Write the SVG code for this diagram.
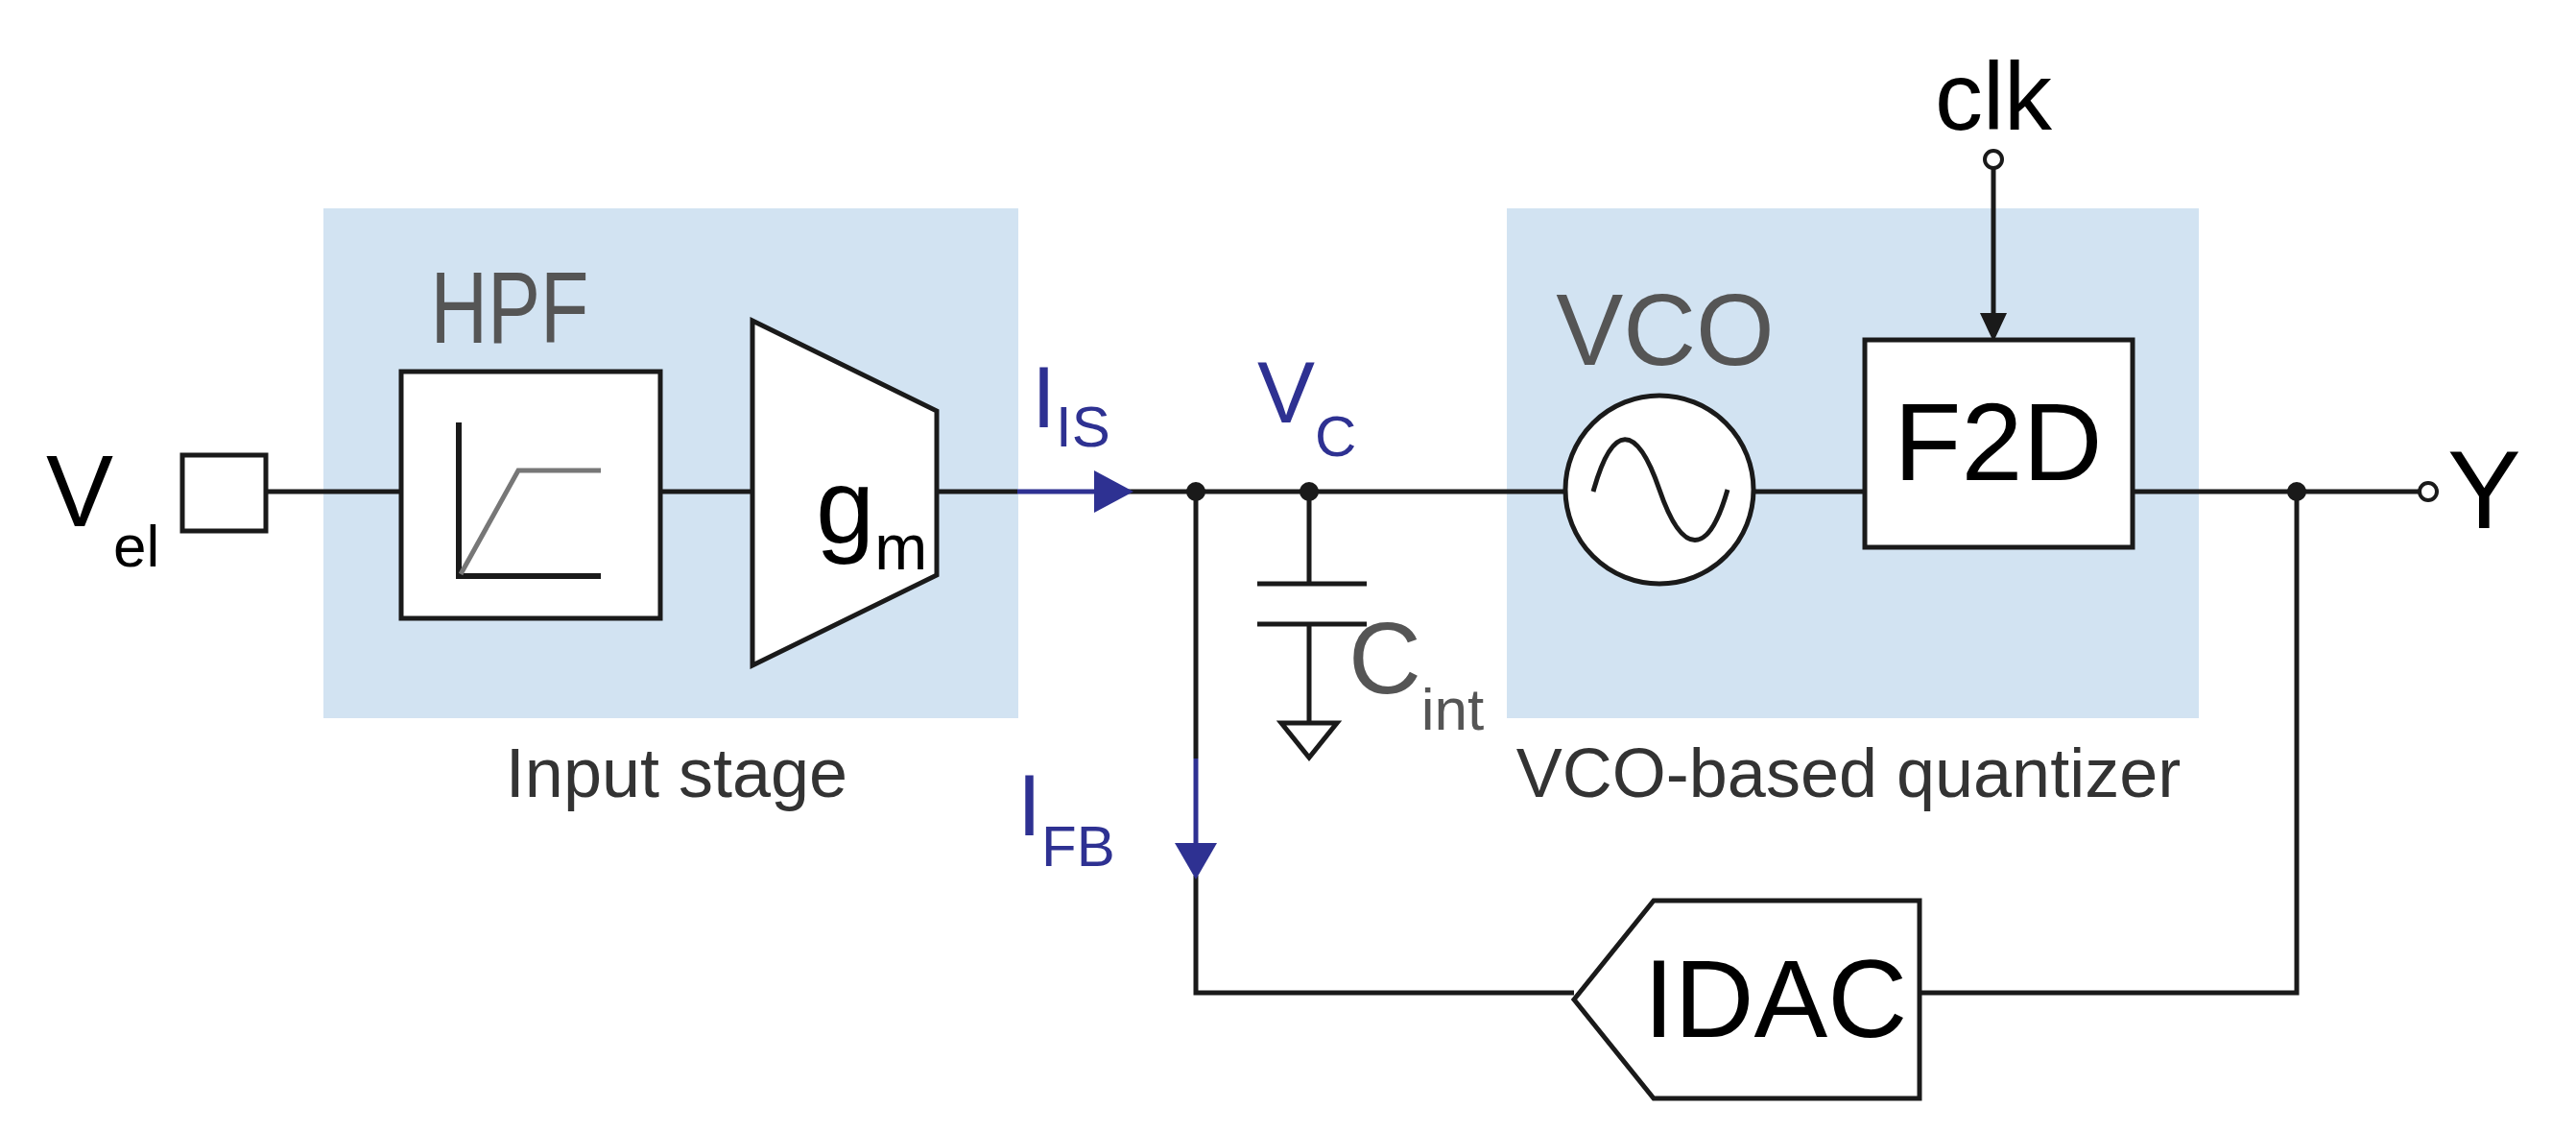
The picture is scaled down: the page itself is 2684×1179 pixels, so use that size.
<svg xmlns="http://www.w3.org/2000/svg" width="2684" height="1179" viewBox="0 0 2684 1179">
<style>
text{font-family:"Liberation Sans",Arial,sans-serif}
.w{stroke:#1a1a1a;stroke-width:5;fill:none}
.b{stroke:#2e3192;stroke-width:5;fill:none}
.blk{fill:#fff;stroke:#1a1a1a;stroke-width:5}
.bg{fill:#d2e3f2}
.g{fill:#555}
.bl{fill:#2e3192}
</style>
<rect class="bg" x="337" y="217" width="724" height="531"/>
<rect class="bg" x="1570" y="217" width="721" height="531"/>
<g id="connectors">
<path class="w" d="M277 512H418M688 512H784M976 512H1060"/>
<path class="b" d="M1060 512H1150"/>
<path class="w" d="M1170 512H1631M1827 512H1943M2222 512H2520"/>
<path class="w" d="M1246 512V790"/>
<path class="b" d="M1246 790V890"/>
<path class="w" d="M1246 912V1034H1640M2000 1034H2393V512"/>
<path class="w" d="M1364 512V608M1364 650V753"/>
<path class="w" d="M1310 608H1424M1310 650H1424"/>
<path class="w" d="M1335 753H1393L1364 789Z" fill="#fff"/>
<path class="w" d="M2077 176V330"/>
<polygon points="2063,326 2091,326 2077,356" fill="#1a1a1a"/>
<polygon class="bl" points="1140,490 1181,512 1140,534"/>
<polygon class="bl" points="1224,878 1268,878 1246,916"/>
<circle cx="1246" cy="512" r="10" fill="#1a1a1a"/>
<circle cx="1364" cy="512" r="10" fill="#1a1a1a"/>
<circle cx="2393" cy="512" r="10" fill="#1a1a1a"/>
<circle cx="2077" cy="166" r="9" fill="#fff" stroke="#1a1a1a" stroke-width="4"/>
<circle cx="2530" cy="512" r="9" fill="#fff" stroke="#1a1a1a" stroke-width="4"/>
</g>
<g id="vel">
<rect class="blk" x="190" y="474" width="87" height="79"/>
<text x="48" y="548" font-size="105">V<tspan font-size="62" dy="42">el</tspan></text>
</g>
<g id="hpf">
<text class="g" x="531" y="357" font-size="105" text-anchor="middle" textLength="165" lengthAdjust="spacingAndGlyphs">HPF</text>
<rect class="blk" x="418" y="387" width="270" height="257"/>
<path d="M478 440V600H626" stroke="#1a1a1a" stroke-width="6" fill="none"/>
<path d="M480 598L540 490H626" stroke="#777" stroke-width="5" fill="none"/>
</g>
<g id="gm">
<polygon class="blk" points="784,334 976,428 976,599 784,693"/>
<text x="850" y="565" font-size="110">g<tspan font-size="66" dy="28">m</tspan></text>
</g>
<g id="iis"><text class="bl" x="1075" y="445" font-size="90">I<tspan font-size="60" dy="20">IS</tspan></text></g>
<g id="vc"><text class="bl" x="1310" y="440" font-size="90">V<tspan font-size="60" dy="35">C</tspan></text></g>
<g id="cint"><text class="g" x="1405" y="722" font-size="105">C<tspan font-size="62" dy="38">int</tspan></text></g>
<g id="vco">
<text class="g" x="1735" y="380" font-size="105" text-anchor="middle">VCO</text>
<circle cx="1729" cy="510" r="98" fill="#fff" stroke="#1a1a1a" stroke-width="5"/>
<path d="M1660 512C1680 440 1705 440 1729 510S1780 580 1800 510" class="w"/>
</g>
<g id="f2d">
<rect class="blk" x="1943" y="354" width="279" height="216"/>
<text x="2082" y="500" font-size="115" text-anchor="middle">F2D</text>
</g>
<g id="clk"><text x="2077" y="135" font-size="100" text-anchor="middle">clk</text></g>
<g id="y"><text x="2550" y="550" font-size="115">Y</text></g>
<g id="idac">
<polygon class="blk" points="1640,1041 1723,938 2000,938 2000,1144 1723,1144"/>
<text x="1850" y="1080" font-size="115" text-anchor="middle">IDAC</text>
</g>
<g id="ifb"><text class="bl" x="1060" y="870" font-size="90">I<tspan font-size="60" dy="32">FB</tspan></text></g>
<g id="labels">
<text x="705" y="830" font-size="72" fill="#333" text-anchor="middle">Input stage</text>
<text x="1926" y="830" font-size="72" fill="#333" text-anchor="middle">VCO-based quantizer</text>
</g>
</svg>
